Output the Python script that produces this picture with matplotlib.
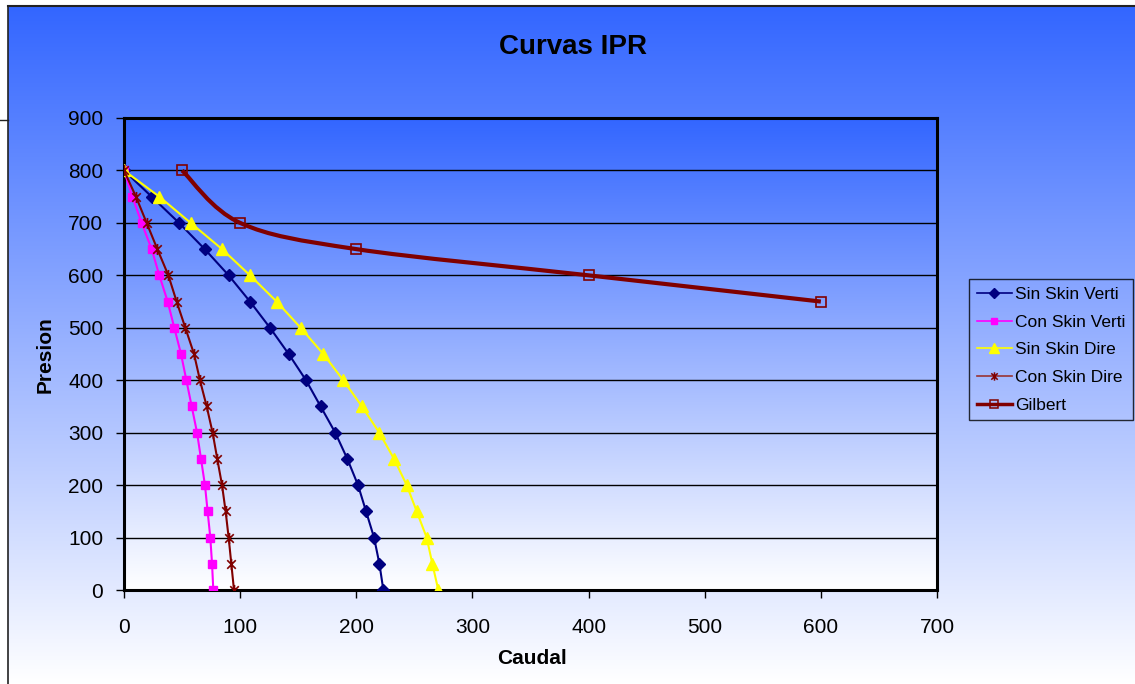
import numpy as np
import matplotlib
matplotlib.use("Agg")
import matplotlib.pyplot as plt
from matplotlib.path import Path
from matplotlib.patches import PathPatch
from matplotlib.lines import Line2D
from matplotlib.colors import LinearSegmentedColormap

# ---- data -------------------------------------------------------------
presion = [800, 750, 700, 650, 600, 550, 500, 450, 400,
           350, 300, 250, 200, 150, 100, 50, 0]
sin_skin_verti = [0, 23.8, 47.4, 69.5, 90.1, 108.5, 125.7, 141.8, 156.7,
                  169.3, 181.9, 192.3, 201.5, 208.4, 215.3, 219.9, 223.3]
con_skin_verti = [0, 7.2, 15.2, 23.8, 30.4, 37.6, 43.3, 49.1, 53.7,
                  58.3, 62.9, 66.3, 69.7, 72.0, 74.3, 75.8, 76.9]
sin_skin_dire = [0, 30.4, 57.4, 84.4, 108.5, 131.4, 152.1, 171.6, 188.8,
                 204.9, 219.8, 232.5, 243.4, 252.0, 260.6, 265.5, 270.6]
con_skin_dire = [0, 10.3, 19.5, 28.7, 38.2, 45.3, 52.8, 60.3, 65.4,
                 71.2, 76.3, 80.3, 84.4, 87.5, 90.1, 92.4, 94.7]
gilbert_caudal = [50, 100, 200, 400, 600]
gilbert_presion = [800, 700, 650, 600, 550]

x_ticks = [0, 100, 200, 300, 400, 500, 600, 700]
y_ticks = [0, 100, 200, 300, 400, 500, 600, 700, 800, 900]

FONT = ["Liberation Sans", "DejaVu Sans"]
plt.rcParams["font.family"] = FONT

W, H = 1135, 684
fig = plt.figure(figsize=(W / 100, H / 100), dpi=100, facecolor="white")

blue_white = LinearSegmentedColormap.from_list("bw", ["#3366ff", "#ffffff"])
grad = np.linspace(0, 1, 256).reshape(-1, 1)

# chart-area background
bg = fig.add_axes([8 / W, 0, 1 - 8 / W, (H - 6) / H], zorder=-10)
bg.imshow(grad, aspect="auto", cmap=blue_white, extent=[0, 1, 0, 1], origin="upper")
bg.set_axis_off()

# outer border lines
fig.add_artist(Line2D([8 / W, 1], [1 - 6 / H, 1 - 6 / H], color="#222222", lw=1.5))
fig.add_artist(Line2D([8 / W, 8 / W], [0, 1 - 6 / H], color="#222222", lw=1.2))
fig.add_artist(Line2D([0, 8 / W], [1 - 120 / H, 1 - 120 / H], color="#222222", lw=1.0))

# plot area
ax = fig.add_axes([124 / W, 1 - 590 / H, (937 - 124) / W, (590 - 118) / H])
ax.imshow(grad, aspect="auto", cmap=blue_white, extent=[0, 700, 0, 900],
          origin="upper", zorder=0)
ax.set_xlim(0, 700)
ax.set_ylim(0, 900)
ax.set_xticks(x_ticks)
ax.set_yticks(y_ticks)
ax.tick_params(axis="both", labelsize=15, length=6, width=1, color="black")
ax.tick_params(axis="x", pad=14)
ax.tick_params(axis="y", pad=9)
ax.yaxis.grid(True, color="black", lw=1.0)
for s in ax.spines.values():
    s.set_linewidth(2.2)
    s.set_color("black")

# star marker: X with a vertical bar
star = Path([(-1, -1), (1, 1), (-1, 1), (1, -1), (0, -1.3), (0, 1.3)],
            [Path.MOVETO, Path.LINETO, Path.MOVETO, Path.LINETO,
             Path.MOVETO, Path.LINETO])

navy, magenta, yellow, maroon = "#000080", "#ff00ff", "#ffff00", "#800000"

ax.plot(sin_skin_verti, presion, color=navy, lw=1.5, marker="D", ms=6,
        mfc=navy, mec=navy, zorder=3)
ax.plot(con_skin_verti, presion, color=magenta, lw=1.5, marker="s", ms=6,
        mfc=magenta, mec=magenta, zorder=3)
ax.plot(sin_skin_dire, presion, color=yellow, lw=1.5, marker="^", ms=9,
        mfc=yellow, mec=yellow, zorder=3)
ax.plot(con_skin_dire, presion, color=maroon, lw=1.5, marker=star, ms=8,
        mec=maroon, mew=1.2, zorder=3)

# Gilbert: smoothed curve (Catmull-Rom -> cubic Bezier in display space)
fig.canvas.draw()
pts = ax.transData.transform(np.column_stack([gilbert_caudal, gilbert_presion]))
ext = np.vstack([pts[0], pts, pts[-1]])
verts = [pts[0]]
codes = [Path.MOVETO]
for i in range(1, len(ext) - 2):
    p0, p1, p2, p3 = ext[i - 1], ext[i], ext[i + 1], ext[i + 2]
    c1 = p1 + (p2 - p0) / 6.0
    c2 = p2 - (p3 - p1) / 6.0
    verts += [c1, c2, p2]
    codes += [Path.CURVE4] * 3
verts = ax.transData.inverted().transform(np.array(verts))
ax.add_patch(PathPatch(Path(verts, codes), facecolor="none", edgecolor=maroon,
                       lw=3, zorder=4))
ax.plot(gilbert_caudal, gilbert_presion, ls="none", marker="s", ms=7,
        mfc="none", mec=maroon, mew=1.2, zorder=5)

# titles
fig.text(573 / W, 1 - 47 / H, "Curvas IPR", ha="center", va="center",
         fontsize=20, fontweight="bold")
fig.text(532 / W, 1 - 658 / H, "Caudal", ha="center", va="center",
         fontsize=15, fontweight="bold")
fig.text(45 / W, 1 - 355 / H, "Presion", ha="center", va="center",
         fontsize=15, fontweight="bold", rotation=90)

# legend
handles = [
    Line2D([], [], color=navy, lw=1.2, marker="D", ms=5, mfc=navy, mec=navy),
    Line2D([], [], color=magenta, lw=1.2, marker="s", ms=5, mfc=magenta, mec=magenta),
    Line2D([], [], color=yellow, lw=1.2, marker="^", ms=7, mfc=yellow, mec=yellow),
    Line2D([], [], color="#993333", lw=1.2, marker=star, ms=6, mec=maroon, mew=1.1),
    Line2D([], [], color=maroon, lw=2.5, marker="s", ms=6, mfc="none", mec=maroon, mew=1.1),
]
labels = ["Sin Skin Verti", "Con Skin Verti", "Sin Skin Dire", "Con Skin Dire", "Gilbert"]
leg = fig.legend(handles, labels, loc="upper left",
                 bbox_to_anchor=(969 / W, 1 - 279 / H), bbox_transform=fig.transFigure,
                 fontsize=12.5, frameon=True, fancybox=False, handlelength=2.0,
                 handletextpad=0.2, labelspacing=0.72, borderpad=0.45,
                 borderaxespad=0)
leg.get_frame().set_facecolor("none")
leg.get_frame().set_edgecolor("black")
leg.get_frame().set_linewidth(1.0)

fig.savefig("out.png", dpi=100)
